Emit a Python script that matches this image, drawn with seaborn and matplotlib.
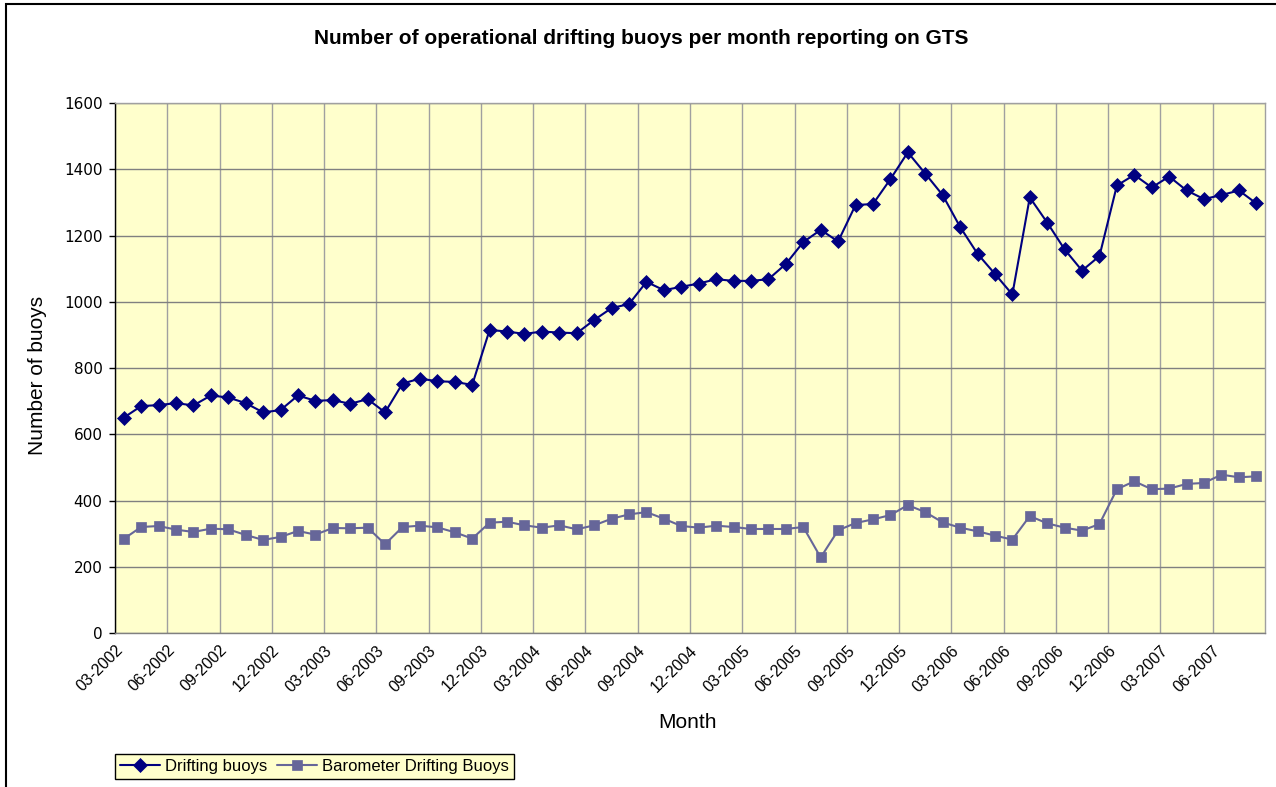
import pandas as pd
import matplotlib.pyplot as plt
import seaborn as sns
from matplotlib.patches import Rectangle
from matplotlib.ticker import MultipleLocator, FixedLocator

# monthly counts, 03-2002 .. 08-2007
months = pd.period_range('2002-03', periods=66, freq='M').strftime('%m-%Y')

drifting = [650, 685, 688, 694, 687, 717, 711, 694, 666, 673, 717, 701, 703, 692, 706, 666,
            753, 768, 760, 758, 749, 915, 910, 903, 910, 907, 905, 945, 981, 993, 1060, 1035, 1045,
            1055, 1068, 1063, 1063, 1068, 1114, 1180, 1217, 1182, 1292, 1295, 1370, 1451, 1387, 1322, 1226,
            1145, 1084, 1022, 1315, 1239, 1158, 1094, 1138, 1351, 1383, 1345, 1378, 1336, 1310, 1322, 1336, 1297]

barometer = [284, 320, 323, 312, 305, 315, 313, 296, 281, 290, 308, 297, 317, 316, 318, 268,
             320, 324, 319, 304, 285, 333, 336, 325, 318, 325, 313, 325, 345, 358, 365, 345,
             323, 318, 324, 320, 314, 314, 314, 320, 228, 310, 332, 343, 356, 386, 365, 334,
             318, 307, 294, 282, 353, 331, 318, 309, 329, 434, 458, 434, 436, 450, 453, 478, 470, 473]

df = pd.DataFrame({'month': months, 'Drifting buoys': drifting,
                   'Barometer Drifting Buoys': barometer})
# points sit in the middle of each month category (Excel style)
df['pos'] = df.index + 0.5

sns.set_style('white')
plt.rcParams['font.family'] = ['Liberation Sans', 'DejaVu Sans']
plt.rcParams['text.color'] = 'black'
plt.rcParams['xtick.labelcolor'] = 'black'
plt.rcParams['ytick.labelcolor'] = 'black'

W, H = 1276, 787
fig = plt.figure(figsize=(W / 100, H / 100), dpi=100)
ax = fig.add_axes([115 / W, 1 - 633 / H, (1265 - 115) / W, (633 - 103) / H])
ax.set_facecolor('#FFFFCC')

sns.lineplot(data=df, x='pos', y='Drifting buoys', ax=ax, color='#000080',
             marker='D', markersize=7, markeredgecolor='#000080', markeredgewidth=0.5,
             linewidth=1.5, label='Drifting buoys', legend=False)
sns.lineplot(data=df, x='pos', y='Barometer Drifting Buoys', ax=ax, color='#666699',
             marker='s', markersize=7, markeredgecolor='#666699', markeredgewidth=0.5,
             linewidth=1.5, label='Barometer Drifting Buoys', legend=False)

ax.set_xlim(0, len(months))
ax.set_ylim(0, 1600)
ax.yaxis.set_major_locator(MultipleLocator(200))

major = list(range(0, len(months), 3))
ax.xaxis.set_major_locator(FixedLocator(major))
ax.xaxis.set_minor_locator(FixedLocator([i for i in range(len(months) + 1) if i % 3 != 0]))
ax.set_xticklabels([months[i] for i in major], rotation=45, ha='right',
                   rotation_mode='anchor', fontsize=11.5)
for lab in ax.get_yticklabels():
    lab.set_fontfamily('DejaVu Sans')
    lab.set_fontsize(11)

ax.tick_params(axis='x', which='major', direction='out', length=4, width=1, color='#808080', pad=3)
ax.tick_params(axis='x', which='minor', direction='in', length=2.5, width=1, color='#808080')
ax.tick_params(axis='y', which='major', direction='out', length=4, width=1, color='#000000', pad=5,
               left=True)

ax.grid(True, axis='y', color='#808080', linewidth=1)
ax.grid(True, axis='x', which='major', color='#A0A0A0', linewidth=1)
ax.set_axisbelow(True)

for side in ['top', 'right']:
    ax.spines[side].set_color('#A0A0A0')
ax.spines['bottom'].set_color('#808080')
ax.spines['left'].set_color('#000000')
for s in ax.spines.values():
    s.set_linewidth(1)

ax.set_xlabel('')
ax.set_ylabel('')
fig.text(688 / W, 1 - 722 / H, 'Month', ha='center', va='center', fontsize=15)
fig.text(38 / W, 1 - 375 / H, 'Number of buoys', ha='center', va='center',
         rotation=90, fontsize=15)
fig.text(641 / W, 1 - 38 / H, 'Number of operational drifting buoys per month reporting on GTS',
         ha='center', va='center', fontsize=15, fontweight='bold')

handles, labels = ax.get_legend_handles_labels()
leg = fig.legend(handles, labels, loc='lower left', bbox_to_anchor=(115 / W, 1 - 779 / H),
                 ncol=2, fontsize=12, frameon=True, fancybox=False, edgecolor='#000000',
                 facecolor='#FFFFCC', framealpha=1, borderpad=0.3, handlelength=2.4,
                 handletextpad=0.3, columnspacing=0.6, borderaxespad=0)
leg.get_frame().set_linewidth(1)

fig.patches.append(Rectangle((6 / W, -0.02), 1.1, 1 - 4 / H + 0.02, transform=fig.transFigure,
                             fill=False, edgecolor='#000000', linewidth=1.5))

fig.savefig('out.png', dpi=100)
